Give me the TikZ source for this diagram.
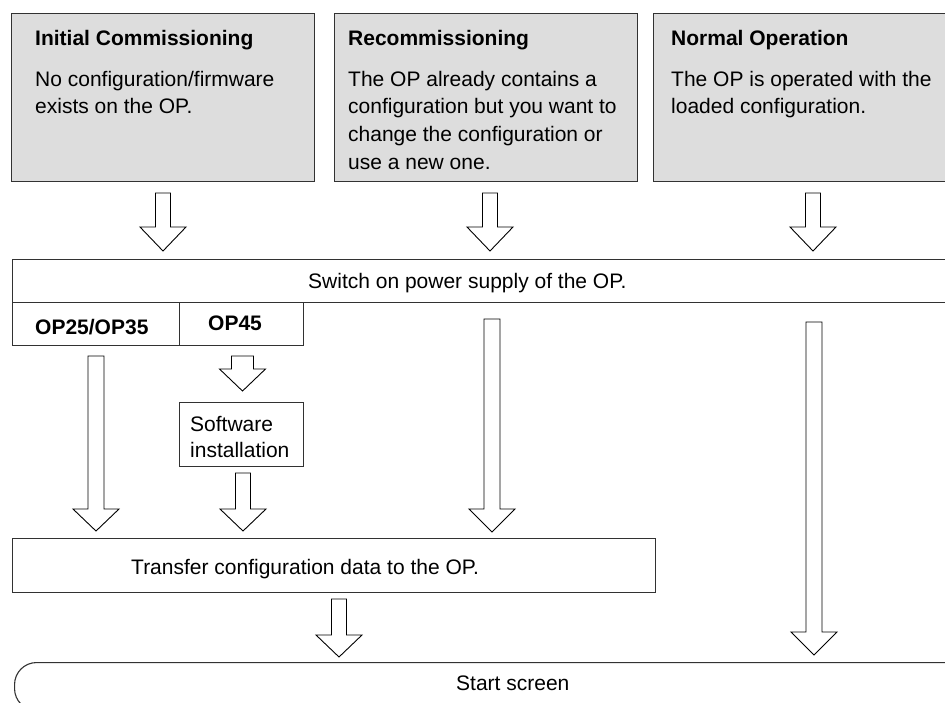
\documentclass[tikz,border=0pt]{standalone}
\usepackage{fontspec}
\setmainfont{Liberation Sans}
\definecolor{boxgray}{RGB}{221,221,221}
\definecolor{linegray}{RGB}{50,50,50}
\newcommand\hollowarrow[5]{%
  \draw[barrowstyle] (#1-#5,#2) -- (#1+#5,#2) -- (#1+#5,#3) -- (#1+23,#3)
    -- (#1,#4) -- (#1-23,#3) -- (#1-#5,#3) -- cycle;}
\begin{document}
\begin{tikzpicture}[x=1pt,y=-1pt,
  phase/.style={draw=linegray, fill=boxgray, line width=1.2pt, anchor=north west, inner sep=0pt},
  plainbox/.style={draw=linegray, fill=white, line width=1.1pt, anchor=north west, inner sep=0pt},
  txt/.style={anchor=base west, inner sep=0pt, font=\fontsize{21}{25}\selectfont},
  btxt/.style={anchor=base west, inner sep=0pt, font=\fontsize{21}{25}\selectfont\bfseries},
  barrowstyle/.style={draw=black, fill=white, line width=0.9pt, line join=miter}]
\useasboundingbox (0,0) rectangle (945,702);
\clip (0,0) rectangle (945,702);

% top phase boxes
\node[phase, minimum width=303pt, minimum height=168pt] (ic) at (11,13) {};
\node[phase, minimum width=303pt, minimum height=168pt] (rc) at (334,13) {};
\node[phase, minimum width=310pt, minimum height=168pt] (no) at (653,13) {};

\node[btxt] (ict) at (35,45) {Initial Commissioning};
\node[txt] (ic1) at (35,86) {No configuration/firmware};
\node[txt] (ic2) at (35,113.7) {exists on the OP.};

\node[btxt] (rct) at (348,45) {Recommissioning};
\node[txt] (rc1) at (348,86) {The OP already contains a};
\node[txt] (rc2) at (348,113.7) {configuration but you want to};
\node[txt] (rc3) at (348,141.4) {change the configuration or};
\node[txt] (rc4) at (348,169.1) {use a new one.};

\node[btxt] (not) at (671,45) {Normal Operation};
\node[txt] (no1) at (671,86) {The OP is operated with the};
\node[txt] (no2) at (671,113.7) {loaded configuration.};

% top arrows
\hollowarrow{163}{193}{227}{251}{7.5}
\hollowarrow{490}{193}{227}{251}{7.5}
\hollowarrow{813}{193}{227}{251}{7.5}

% switch on row
\node[plainbox, minimum width=960pt, minimum height=43pt] (sw) at (12,259) {};
\node[txt] (swt) at (308,288) {Switch on power supply of the OP.};
\node[plainbox, minimum width=167pt, minimum height=43pt] (op25) at (12,302) {};
\node[plainbox, minimum width=124pt, minimum height=43pt] (op45) at (179,302) {};
\node[btxt] (op25t) at (35,334) {OP25/OP35};
\node[btxt] (op45t) at (208,330) {OP45};

% software installation
\node[plainbox, minimum width=124pt, minimum height=64pt] (sw45) at (179,402) {};
\node[txt] (sw1) at (190,431) {Software};
\node[txt] (sw2) at (190,457) {installation};

% transfer
\node[plainbox, minimum width=643pt, minimum height=54pt] (tr) at (12,538) {};
\node[txt] (trt) at (131,574) {Transfer configuration data to the OP.};

% start screen
\node[plainbox, rounded corners=22pt, minimum width=960pt, minimum height=48pt] (ss) at (14,662) {};
\node[txt] (sst) at (456,690) {Start screen};

% arrows in the middle
\hollowarrow{242.5}{356}{369}{391}{11}
\hollowarrow{96}{356}{509}{531}{8}
\hollowarrow{243}{473}{509}{531}{7.5}
\hollowarrow{492}{319}{509}{532}{8}
\hollowarrow{814}{322}{632}{655}{8}
\hollowarrow{339}{599}{635}{657}{7.5}
\end{tikzpicture}
\end{document}
